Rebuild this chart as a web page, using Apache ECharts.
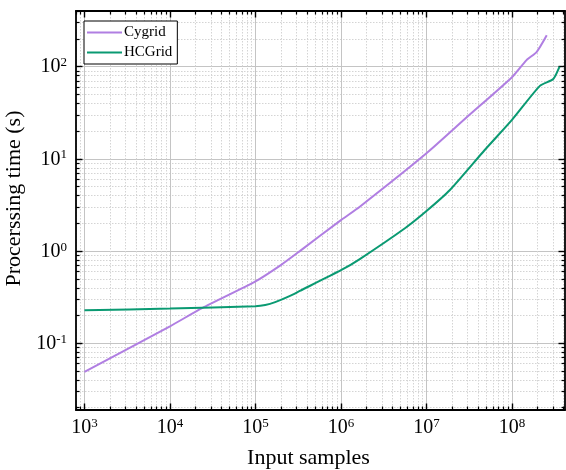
<!DOCTYPE html>
<html>
<head>
<meta charset="utf-8">
<script src="https://cdn.jsdelivr.net/npm/echarts@6/dist/echarts.min.js"></script>
<style>
  html, body { margin: 0; padding: 0; background: #ffffff; }
  #chart { width: 566px; height: 470px; }
</style>
</head>
<body>
<div id="chart"></div>
<script>
// Benchmark: processing time versus number of input samples (log-log)
const cygridSamples = [1e3, 1e4, 2.4e4, 1e5, 2e5, 3.3e5, 1e6, 1.66e6, 1e7, 3e7, 1e8, 1.48e8, 1.95e8, 2.55e8];
const cygridTime    = [0.049, 0.153, 0.242, 0.47, 0.71, 1.0, 2.17, 3.03, 11.5, 28.6, 77, 118, 145, 219];

const hcgridSamples = [1e3, 1e4, 1e5, 1.3e5, 1.7e5, 2.5e5, 3.3e5, 1e6, 1.66e6, 5.6e6, 1e7, 1.88e7, 4.8e7, 1e8, 2.12e8, 3.04e8, 3.6e8];
const hcgridTime    = [0.228, 0.238, 0.252, 0.26, 0.28, 0.325, 0.37, 0.62, 0.82, 1.77, 2.72, 4.6, 12.5, 26.5, 62, 73.5, 100];

// Axis ranges and tick positions
const xRange = [796, 4.17e8];
const yRange = [0.0189, 402];
const xMajor = [1e3, 1e4, 1e5, 1e6, 1e7, 1e8];
const yMajor = [0.1, 1, 10, 100];

function minorTicks(lo, hi) {
  const out = [];
  for (let e = Math.floor(Math.log10(lo)); e <= Math.ceil(Math.log10(hi)); e++) {
    for (let m = 2; m <= 9; m++) {
      const v = m * Math.pow(10, e);
      if (v > lo && v < hi) out.push(v);
    }
  }
  return out;
}
const xMinor = minorTicks(xRange[0], xRange[1]);
const yMinor = minorTicks(yRange[0], yRange[1]);

const FONT = 'Liberation Serif';
const powerLabel = v => '{b|10}{s|' + Math.round(Math.log10(v)) + '}';
const labelRich = {
  b: { fontFamily: FONT, fontSize: 20, color: '#000', verticalAlign: 'bottom' },
  s: { fontFamily: FONT, fontSize: 13, color: '#000', verticalAlign: 'bottom', padding: [0, 0, 8, 0] }
};

function axis(kind, opts) {
  const base = {
    type: 'log',
    logBase: 10,
    min: kind === 'x' ? xRange[0] : yRange[0],
    max: kind === 'x' ? xRange[1] : yRange[1],
    axisLine: { show: false, lineStyle: { color: '#000', width: 1.8 } },
    axisTick: { show: false },
    axisLabel: { show: false },
    splitLine: { show: false },
    minorTick: { show: false },
    minorSplitLine: { show: false },
    silent: true
  };
  return Object.assign(base, opts);
}

const majorTick = (vals) => ({ show: true, inside: true, length: 6.5, customValues: vals, lineStyle: { color: '#000', width: 1.4 } });
const minorTick = (vals) => ({ show: true, inside: true, length: 3.5, customValues: vals, lineStyle: { color: '#000', width: 1.2 } });

const xAxes = [
  axis('x', {
    position: 'bottom',
    axisLine: { show: true, onZero: false, lineStyle: { color: '#000', width: 1.8 } },
    axisTick: majorTick(xMajor),
    axisLabel: { show: true, customValues: xMajor, margin: 7, formatter: powerLabel, rich: labelRich },
    splitLine: { show: true, lineStyle: { color: '#c4c4c4', width: 1 } },
    name: 'Input samples',
    nameLocation: 'middle',
    nameGap: 37,
    nameTextStyle: { fontFamily: FONT, fontSize: 22, color: '#000', padding: [0, 24, 0, 0] }
  }),
  axis('x', {
    position: 'bottom',
    axisTick: minorTick(xMinor),
    splitLine: { show: true, lineStyle: { color: '#d4d4d4', width: 1, type: [1.5, 1.5] } }
  }),
  axis('x', {
    position: 'top',
    axisLine: { show: true, onZero: false, lineStyle: { color: '#000', width: 1.8 } },
    axisTick: majorTick(xMajor)
  }),
  axis('x', { position: 'top', axisTick: minorTick(xMinor) })
];

const yAxes = [
  axis('y', {
    position: 'left',
    axisLine: { show: true, onZero: false, lineStyle: { color: '#000', width: 1.8 } },
    axisTick: majorTick(yMajor),
    axisLabel: { show: true, customValues: yMajor, margin: 9, formatter: powerLabel, rich: labelRich },
    splitLine: { show: true, lineStyle: { color: '#c4c4c4', width: 1 } },
    name: 'Procerssing time (s)',
    nameLocation: 'middle',
    nameGap: 38,
    nameTextStyle: { fontFamily: FONT, fontSize: 22, color: '#000', padding: [0, 0, 0, 24] }
  }),
  axis('y', {
    position: 'left',
    axisTick: minorTick(yMinor),
    splitLine: { show: true, lineStyle: { color: '#d4d4d4', width: 1, type: [1.5, 1.5] } }
  }),
  axis('y', {
    position: 'right',
    axisLine: { show: true, onZero: false, lineStyle: { color: '#000', width: 1.8 } },
    axisTick: majorTick(yMajor)
  }),
  axis('y', { position: 'right', axisTick: minorTick(yMinor) })
];

const pairs = (xs, ys) => xs.map((x, i) => [x, ys[i]]);

const chart = echarts.init(document.getElementById('chart'), null, { renderer: 'canvas' });
chart.setOption({
  animation: false,
  backgroundColor: '#ffffff',
  grid: { left: 76, right: 1, top: 11, bottom: 60, containLabel: false, outerBoundsMode: 'none' },
  xAxis: xAxes,
  yAxis: yAxes,
  legend: {
    left: 84,
    top: 21,
    orient: 'vertical',
    itemWidth: 35,
    itemHeight: 14,
    itemGap: 5,
    padding: [4, 5, 4, 2],
    borderColor: '#000',
    borderWidth: 1,
    borderRadius: 0,
    backgroundColor: '#ffffff',
    itemStyle: { opacity: 0 },
    lineStyle: { width: 2 },
    textStyle: { fontFamily: FONT, fontSize: 15, color: '#000', padding: [0, 0, 0, -3] },
    data: ['Cygrid', 'HCGrid']
  },
  series: [
    {
      name: 'Cygrid',
      type: 'line',
      data: pairs(cygridSamples, cygridTime),
      smooth: 0.2,
      symbol: 'none',
      lineStyle: { color: '#b07ee2', width: 2 },
      itemStyle: { color: '#b07ee2' },
      z: 3
    },
    {
      name: 'HCGrid',
      type: 'line',
      data: pairs(hcgridSamples, hcgridTime),
      smooth: 0.2,
      symbol: 'none',
      lineStyle: { color: '#0a9a72', width: 2 },
      itemStyle: { color: '#0a9a72' },
      z: 3
    }
  ]
});
</script>
</body>
</html>
